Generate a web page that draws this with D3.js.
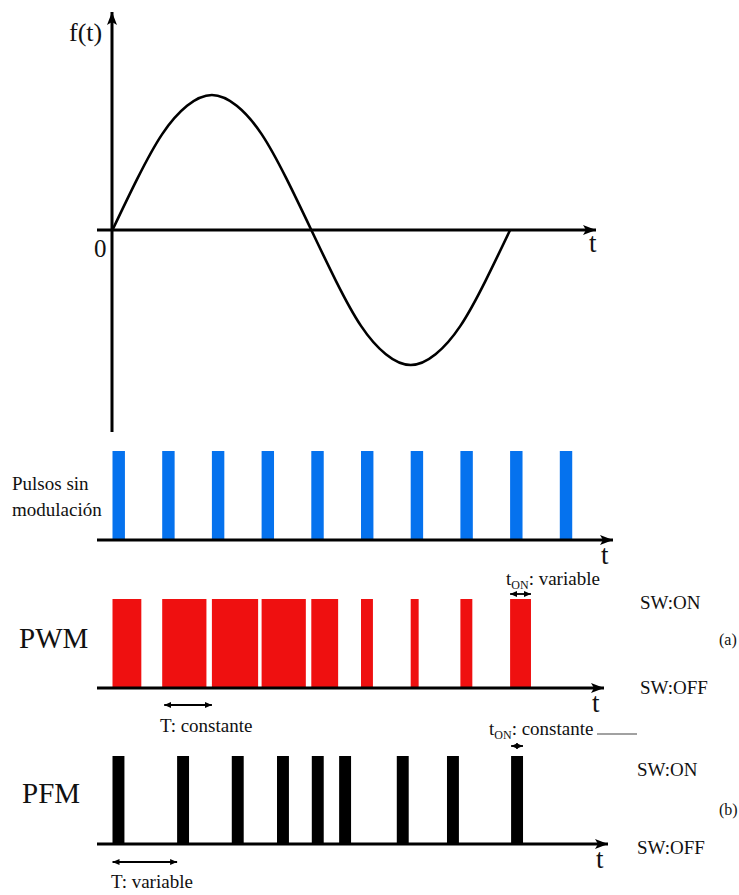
<!DOCTYPE html>
<html>
<head>
<meta charset="utf-8">
<script src="https://cdn.jsdelivr.net/npm/d3@7"></script>
<style>
  body { margin: 0; background: #fff; }
</style>
</head>
<body>
<svg id="chart"></svg>
<script>
// time is counted in pulse periods T
const sineT = [0, 0.5, 1, 1.5, 2, 2.5, 3, 3.5, 4, 4.5, 5, 5.5, 6, 6.5, 7, 7.5, 8];
const sineF = [0, 0.38, 0.71, 0.92, 1, 0.92, 0.71, 0.38, 0, -0.38, -0.71, -0.92, -1, -0.92, -0.71, -0.38, 0];

const pulseStarts = [0, 1, 2, 3, 4, 5, 6, 7, 8, 9];
const pulseWidth = 0.25;

const pwmStarts = [0, 1, 2, 3, 4, 5, 6, 7, 8];
const pwmWidths = [0.58, 0.89, 0.93, 0.89, 0.54, 0.24, 0.16, 0.24, 0.42];

const pfmStarts = [0, 1.3, 2.4, 3.31, 4.01, 4.56, 5.72, 6.73, 8.02];
const pfmWidth = 0.24;

const w = 739, h = 895;
const serif = "'Liberation Serif', 'DejaVu Serif', 'Times New Roman', serif";

const svg = d3.select('#chart')
  .attr('width', w)
  .attr('height', h)
  .attr('font-family', serif);

const defs = svg.append('defs');
defs.append('marker')
  .attr('id', 'head')
  .attr('markerUnits', 'userSpaceOnUse')
  .attr('markerWidth', 13).attr('markerHeight', 10)
  .attr('refX', 13).attr('refY', 5)
  .attr('orient', 'auto')
  .append('path').attr('d', 'M0,0 L13,5 L0,10 L3,5 Z').attr('fill', '#000');
defs.append('marker')
  .attr('id', 'small')
  .attr('markerUnits', 'userSpaceOnUse')
  .attr('markerWidth', 7).attr('markerHeight', 6)
  .attr('refX', 7).attr('refY', 3)
  .attr('orient', 'auto-start-reverse')
  .append('path').attr('d', 'M0,0 L7,3 L0,6 Z').attr('fill', '#000');

const x = d3.scaleLinear().domain([0, 10]).range([112.5, 609.5]);
const f = d3.scaleLinear().domain([-1, 1]).range([365, 95]);

function label(px, py, size, str) {
  return svg.append('text')
    .attr('x', px).attr('y', py)
    .attr('font-family', serif)
    .attr('font-size', size)
    .attr('fill', '#111')
    .text(str);
}

// ---- f(t) panel
svg.append('line')
  .attr('x1', 112).attr('y1', 432).attr('x2', 112).attr('y2', 12)
  .attr('stroke', '#000').attr('stroke-width', 3)
  .attr('marker-end', 'url(#head)');
svg.append('line')
  .attr('x1', 97).attr('y1', f(0)).attr('x2', 596).attr('y2', f(0))
  .attr('stroke', '#000').attr('stroke-width', 3)
  .attr('marker-end', 'url(#head)');

const sine = d3.line()
  .x((d, i) => x(sineT[i]))
  .y(d => f(d))
  .curve(d3.curveNatural);

svg.append('path')
  .attr('d', sine(sineF))
  .attr('fill', 'none')
  .attr('stroke', '#000')
  .attr('stroke-width', 2.6);

label(69, 41, 26, 'f(t)');
label(94, 257, 25, '0');
label(589, 252, 27, 't');

// ---- pulse panels
function panel(top, base, tipX, starts, widths, color) {
  const lvl = d3.scaleLinear().domain([0, 1]).range([base, top]);
  const g = svg.append('g');
  g.selectAll('rect')
    .data(starts)
    .enter()
    .append('rect')
    .attr('x', d => x(d))
    .attr('y', lvl(1))
    .attr('width', (d, i) => x(d + widths[i]) - x(d))
    .attr('height', lvl(0) - lvl(1))
    .attr('fill', color);
  g.append('line')
    .attr('x1', 97).attr('y1', base).attr('x2', tipX).attr('y2', base)
    .attr('stroke', '#000').attr('stroke-width', 3)
    .attr('marker-end', 'url(#head)');
  label(tipX - 12, base + 24, 27, 't');
  return lvl;
}

function dbl(x1, x2, y) {
  svg.append('line')
    .attr('x1', x1).attr('y1', y).attr('x2', x2).attr('y2', y)
    .attr('stroke', '#000').attr('stroke-width', 1.8)
    .attr('marker-start', 'url(#small)')
    .attr('marker-end', 'url(#small)');
}

function subText(px, py, main, sub, rest) {
  const t = label(px, py, 19, null);
  t.append('tspan').text(main);
  t.append('tspan').attr('dy', 4).attr('font-size', 12).text(sub);
  t.append('tspan').attr('dy', -4).text(rest);
}

// unmodulated pulses
panel(451, 540, 613, pulseStarts, pulseStarts.map(() => pulseWidth), '#0572ee');
label(12, 490, 19, 'Pulsos sin');
label(12, 516, 19, 'modulación');

// PWM
panel(599, 688, 604, pwmStarts, pwmWidths, '#ef1010');
label(19, 648, 29, 'PWM');
label(640, 609, 19, 'SW:ON');
label(640, 694, 19, 'SW:OFF');
label(719, 645, 16, '(a)');
subText(506, 585, 't', 'ON', ': variable');
dbl(x(pwmStarts[8]), x(pwmStarts[8] + pwmWidths[8]), 594);
dbl(x(pwmStarts[1]) + 2, x(pwmStarts[2]), 705);
label(160, 732, 19, 'T: constante');

// PFM
panel(756, 844, 608, pfmStarts, pfmStarts.map(() => pfmWidth), '#000');
label(22, 803, 29, 'PFM');
label(637, 776, 19, 'SW:ON');
label(637, 854, 19, 'SW:OFF');
label(719, 815, 16, '(b)');
subText(489, 735, 't', 'ON', ': constante');
svg.append('line')
  .attr('x1', 597).attr('y1', 734).attr('x2', 637).attr('y2', 734)
  .attr('stroke', '#444').attr('stroke-width', 1.2);
dbl(x(pfmStarts[8]), x(pfmStarts[8] + pfmWidth), 746);
dbl(x(pfmStarts[0]), x(pfmStarts[1]), 862);
label(111, 888, 19, 'T: variable');
</script>
</body>
</html>
